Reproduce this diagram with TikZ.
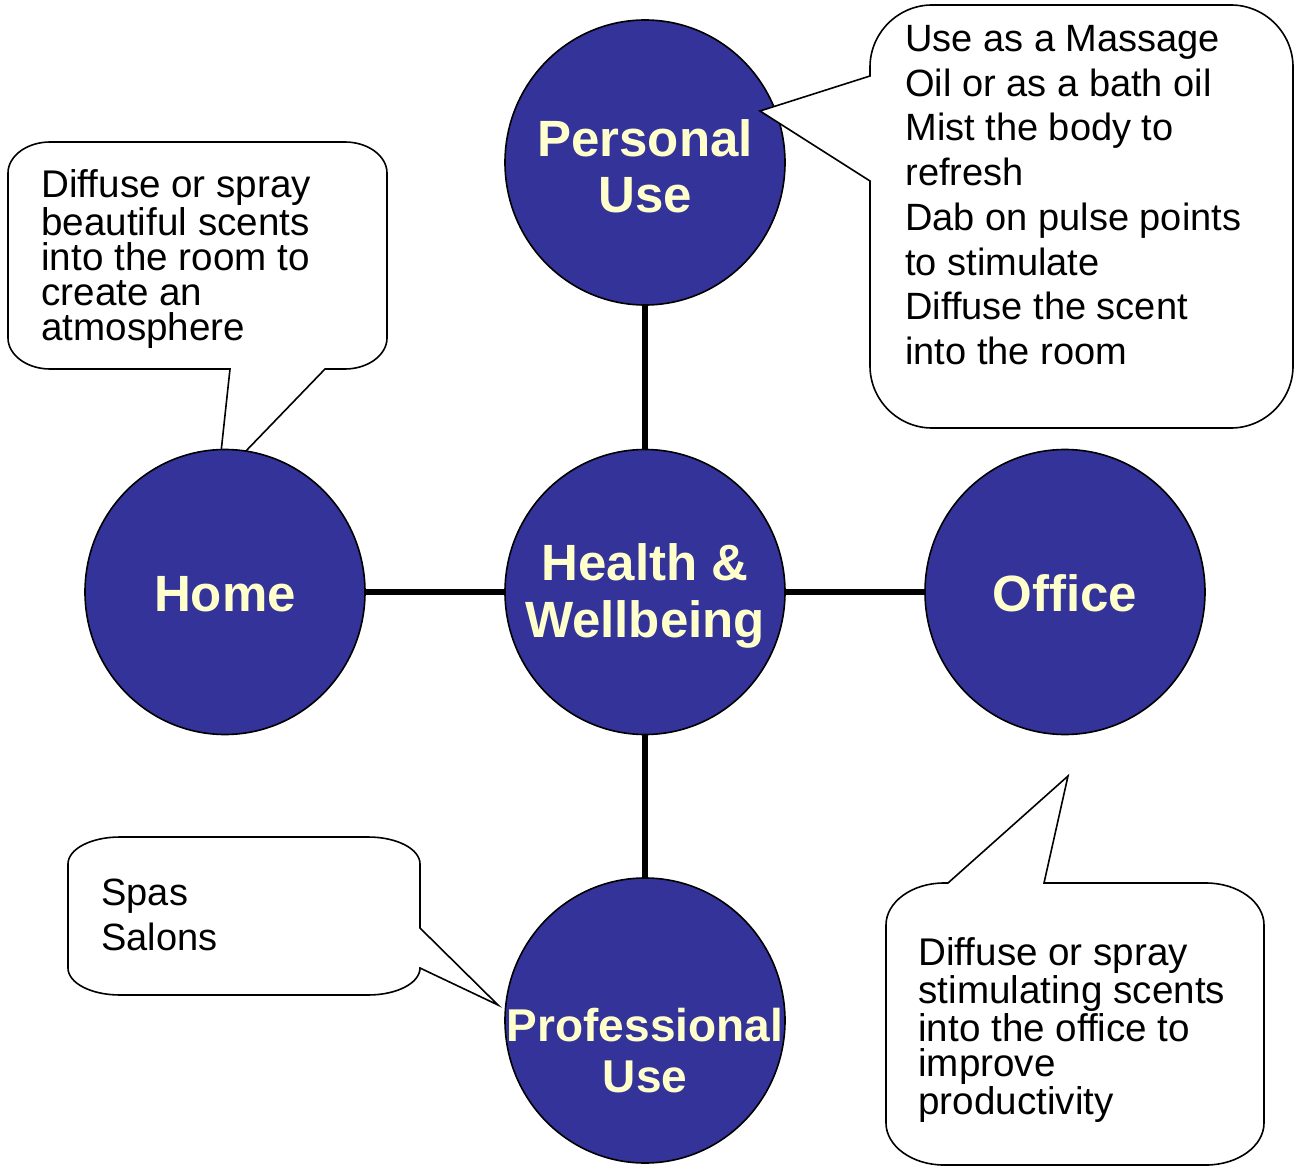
\documentclass[tikz,border=0pt]{standalone}
\usepackage{fontspec}
\setmainfont{Liberation Sans}
\usetikzlibrary{shapes.geometric}
\definecolor{bubble}{HTML}{333399}
\definecolor{cream}{HTML}{FFFFCC}
\begin{document}
\begin{tikzpicture}[x=0.5pt,y=-0.5pt,
  hub/.style={ellipse, draw=black, line width=0.8pt, fill=bubble,
    minimum width=140pt, minimum height=142.5pt, inner sep=0pt},
  htext/.style={text=cream, font=\bfseries\fontsize{25.5}{28}\selectfont,
    align=center, inner sep=0pt},
  link/.style={line width=3pt, draw=black},
  callout/.style={draw=black, fill=white, line width=0.8pt, line join=miter},
  ctext/.style={anchor=north west, inner sep=0pt, align=left, text=black}]
\useasboundingbox (0,0) rectangle (1296,1166);

% tips of the callouts
\coordinate (htip) at (218,480);
\coordinate (ptip) at (760,111);
\coordinate (prtip) at (498,1005);
\coordinate (otip) at (1068,776);

% Home callout (below the circle)
\path[callout] (50,142) -- (345,142) .. controls (368,142) and (387,156) .. (387,173)
  -- (387,338) .. controls (387,355) and (368,369) .. (345,369)
  -- (325,369) -- (htip) -- (230,369) -- (50,369)
  .. controls (27,369) and (8,355) .. (8,338) -- (8,173)
  .. controls (8,156) and (27,142) .. (50,142) -- cycle;

% circles
\node[hub] (pers) at (645,162.5) {};
\node[hub] (hw) at (645,592) {};
\node[hub] (home) at (225,592) {};
\node[hub] (off) at (1065,592) {};
\node[hub] (pro) at (645,1020.5) {};

% connectors
\draw[link] (pers) -- (hw);
\draw[link] (hw) -- (pro);
\draw[link] (home) -- (hw);
\draw[link] (hw) -- (off);

% Personal callout (above the circle)
\path[callout] (932,5) -- (1231,5) .. controls (1265,5) and (1293,33) .. (1293,67)
  -- (1293,366) .. controls (1293,400) and (1265,428) .. (1231,428)
  -- (932,428) .. controls (898,428) and (870,400) .. (870,366)
  -- (870,181) -- (ptip) -- (870,76) -- (870,67)
  .. controls (870,33) and (898,5) .. (932,5) -- cycle;

% Professional callout
\path[callout] (120,837) -- (368,837) .. controls (397,837) and (420,849) .. (420,864)
  -- (420,928) -- (prtip) -- (420,968)
  .. controls (420,983) and (397,995) .. (368,995) -- (120,995)
  .. controls (91,995) and (68,983) .. (68,968) -- (68,864)
  .. controls (68,849) and (91,837) .. (120,837) -- cycle;

% Office callout
\path[callout] (944,883) -- (948,883) -- (otip) -- (1044,883) -- (1206,883)
  .. controls (1238,883) and (1264,902) .. (1264,925) -- (1264,1123)
  .. controls (1264,1146) and (1238,1165) .. (1206,1165) -- (944,1165)
  .. controls (912,1165) and (886,1146) .. (886,1123) -- (886,925)
  .. controls (886,902) and (912,883) .. (944,883) -- cycle;

% circle labels
\node[htext] (perst) at (645,166) {Personal\\Use};
\node[htext, font=\bfseries\fontsize{25.5}{28.5}\selectfont] (hwt) at (645,596) {Health \&\\Wellbeing};
\node[htext, anchor=base] (homet) at (225,611) {Home};
\node[htext, anchor=base] (offt) at (1065,611) {Office};
\node[htext, font=\bfseries\fontsize{23}{25.5}\selectfont] (prot) at (645,1051) {Professional\\Use};

% callout texts
\node[ctext, font=\fontsize{19}{22.35}\selectfont] (perstext) at (905,25)
  {Use as a Massage\\Oil or as a bath oil\\Mist the body to\\refresh\\Dab on pulse points\\to stimulate\\Diffuse the scent\\into the room};
\node[ctext, font=\fontsize{19.3}{17.5}\selectfont] (hometext) at (41,169)
  {Diffuse or spray\\beautiful scents\\into the room to\\create an\\atmosphere};
\node[ctext, font=\fontsize{19.3}{17.4}\selectfont] (offtext) at (918,937)
  {Diffuse or spray\\stimulating scents\\into the office to\\improve\\productivity};
\node[ctext, font=\fontsize{19}{22.5}\selectfont] (protext) at (101,879)
  {Spas\\Salons};
\end{tikzpicture}
\end{document}
